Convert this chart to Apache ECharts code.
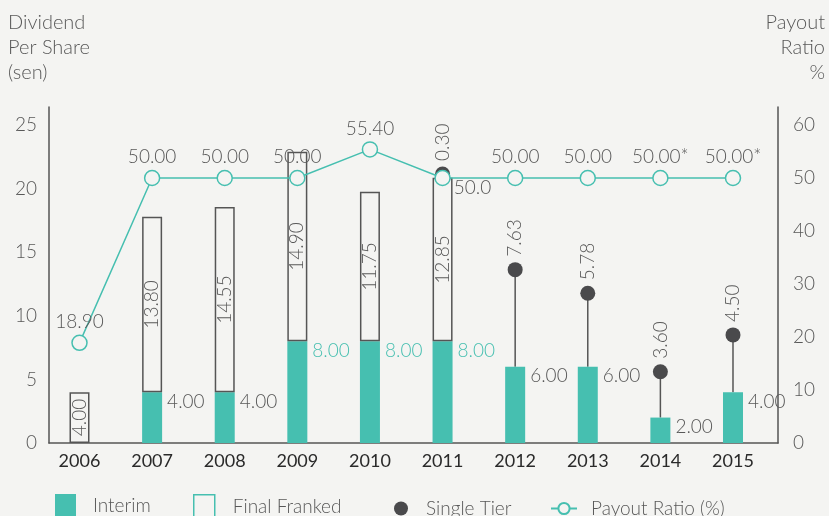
<!DOCTYPE html>
<html>
<head>
<meta charset="utf-8">
<title>Dividend Per Share</title>
<script src="https://cdn.jsdelivr.net/npm/echarts@6/dist/echarts.min.js"></script>
<style>
  html, body { margin: 0; padding: 0; background: #f4f4f2; }
  #main { width: 829px; height: 516px; }
</style>
</head>
<body>
<div id="main"></div>
<script>
var years = ['2006', '2007', '2008', '2009', '2010', '2011', '2012', '2013', '2014', '2015'];
var interim = [0, 4.00, 4.00, 8.00, 8.00, 8.00, 6.00, 6.00, 2.00, 4.00];
var finalFranked = [4.00, 13.80, 14.55, 14.90, 11.75, 12.85, null, null, null, null];
var singleTier = [null, null, null, null, null, 0.30, 7.63, 5.78, 3.60, 4.50];
var payoutRatio = [18.90, 50.00, 50.00, 50.00, 55.40, 50.00, 50.00, 50.00, 50.00, 50.00];
var payoutLabels = ['18.90', '50.00', '50.00', '50.00', '55.40', '50.0', '50.00', '50.00', '50.00*', '50.00*'];
var leftTicks = [0, 5, 10, 15, 20, 25];
var rightTicks = [0, 10, 20, 30, 40, 50, 60];

var teal = '#46bfb0';
var grey = '#585858';
var dark = '#4a4a4c';
var bg = '#f4f4f2';
var font = 'Lato, "Open Sans", sans-serif';
var weight = 300;

// single tier sits on top of everything else paid that year
var singleData = [];
singleTier.forEach(function (v, i) {
    if (v == null) return;
    var base = interim[i] + (finalFranked[i] || 0);
    singleData.push([i, base, base + v]);
});

var legendText = { fontSize: 19, color: grey, fontFamily: font, fontWeight: weight };

var myChart = echarts.init(document.getElementById('main'));
var option = {
    backgroundColor: bg,
    animation: false,
    title: [
        { text: 'Dividend\nPer Share\n(sen)', left: 8, top: 10, padding: 0,
          textStyle: { fontSize: 20, lineHeight: 25, fontWeight: weight, color: grey, fontFamily: font } },
        { text: 'Payout\nRatio\n%', left: 825, top: 10, padding: 0, textAlign: 'right',
          textStyle: { fontSize: 20, lineHeight: 25, fontWeight: weight, color: grey, fontFamily: font, align: 'right' } }
    ],
    legend: [
        { data: ['Interim'], left: 55, top: 494, padding: 0, itemWidth: 21, itemHeight: 24, icon: 'rect',
          textStyle: Object.assign({ padding: [0, 0, 0, 12] }, legendText) },
        { data: [{ name: 'Final Franked', itemStyle: { color: bg, borderColor: teal, borderWidth: 1.5 } }],
          left: 193, top: 494, padding: 0, itemWidth: 21, itemHeight: 24, icon: 'rect',
          textStyle: Object.assign({ padding: [0, 0, 0, 13] }, legendText) },
        { data: [{ name: 'Single Tier', icon: 'circle' }], left: 394, top: 499, padding: 0, itemWidth: 14, itemHeight: 14,
          textStyle: Object.assign({ padding: [0, 0, 0, 13] }, legendText) },
        { data: ['Payout Ratio (%)'], left: 550, top: 499, padding: 0, itemWidth: 26, itemHeight: 14,
          textStyle: Object.assign({ padding: [0, 0, 0, 9] }, legendText) }
    ],
    grid: [
        { left: 43.2, right: 59.7, top: 107, bottom: 73 },
        { left: 49, right: 51, top: 107, bottom: 73 }
    ],
    xAxis: [
        { type: 'category', gridIndex: 0, data: years,
          axisLine: { show: false }, axisTick: { show: false },
          axisLabel: { fontSize: 18, color: '#2a2a2a', fontFamily: font, margin: 9 } },
        { type: 'value', gridIndex: 1, min: 0, max: 1,
          axisLine: { show: true, lineStyle: { color: '#555', width: 1.5 } },
          axisTick: { show: false }, axisLabel: { show: false }, splitLine: { show: false } }
    ],
    yAxis: [
        { type: 'value', gridIndex: 0, min: 0, max: 26.42, interval: 5, offset: -5.8,
          axisLine: { show: true, lineStyle: { color: '#555', width: 1.5 } },
          axisTick: { show: false }, splitLine: { show: false },
          axisLabel: { fontSize: 19, color: grey, fontFamily: font, fontWeight: weight, margin: 12,
              formatter: function (v) { return leftTicks.indexOf(v) >= 0 ? String(v) : ''; } } },
        { type: 'value', gridIndex: 0, position: 'right', min: 0, max: 63.4, interval: 10, offset: 8.7,
          axisLine: { show: true, lineStyle: { color: '#555', width: 1.5 } },
          axisTick: { show: false }, splitLine: { show: false },
          axisLabel: { fontSize: 19, color: grey, fontFamily: font, fontWeight: weight, margin: 15,
              formatter: function (v) { return rightTicks.indexOf(v) >= 0 ? String(v) : ''; } } },
        { type: 'value', gridIndex: 1, show: false }
    ],
    series: [
        {
            name: 'Interim', type: 'bar', stack: 'dps', barWidth: 20,
            itemStyle: { color: teal },
            label: {
                show: true, position: ['100%', 0], offset: [5, 0],
                fontSize: 19, fontFamily: font, fontWeight: weight, color: grey,
                formatter: function (p) { return p.value ? p.value.toFixed(2) : ''; }
            },
            data: interim.map(function (v, i) {
                return (i >= 3 && i <= 5) ? { value: v, label: { color: teal } } : v;
            })
        },
        {
            name: 'Final Franked', type: 'bar', stack: 'dps', barWidth: 20,
            itemStyle: { color: bg, borderColor: '#555', borderWidth: 1.5 },
            label: {
                show: true, position: 'inside', rotate: 90,
                fontSize: 19, fontFamily: font, fontWeight: weight, color: grey,
                formatter: function (p) { return p.value.toFixed(2); }
            },
            data: finalFranked
        },
        {
            name: 'Single Tier', type: 'custom',
            itemStyle: { color: dark },
            encode: { x: 0, y: 2 },
            renderItem: function (params, api) {
                var b = api.coord([api.value(0), api.value(1)]);
                var t = api.coord([api.value(0), api.value(2)]);
                var txt = singleTier[api.value(0)].toFixed(2);
                return {
                    type: 'group',
                    children: [
                        { type: 'line', shape: { x1: b[0], y1: b[1], x2: t[0], y2: t[1] },
                          style: { stroke: '#555', lineWidth: 1.5 } },
                        { type: 'circle', shape: { cx: t[0], cy: t[1], r: 7.5 },
                          style: { fill: dark } },
                        { type: 'text', x: t[0], y: t[1] - 13, rotation: Math.PI / 2,
                          style: { text: txt, align: 'left', verticalAlign: 'middle',
                                   fill: grey, fontSize: 19, fontFamily: font, fontWeight: weight } }
                    ]
                };
            },
            data: singleData
        },
        {
            name: 'Payout Ratio (%)', type: 'line', yAxisIndex: 1, z: 5,
            symbol: 'circle', symbolSize: 15,
            lineStyle: { color: teal, width: 1.5 },
            itemStyle: { color: bg, borderColor: teal, borderWidth: 1.5 },
            label: {
                show: true, position: 'top', distance: 3,
                fontSize: 19, fontFamily: font, fontWeight: weight, color: grey,
                formatter: function (p) { return payoutLabels[p.dataIndex]; }
            },
            data: payoutRatio.map(function (v, i) {
                return i === 5 ? { value: v, label: { position: 'right', offset: [0, 10] } } : v;
            })
        }
    ]
};

myChart.setOption(option);
</script>
</body>
</html>
